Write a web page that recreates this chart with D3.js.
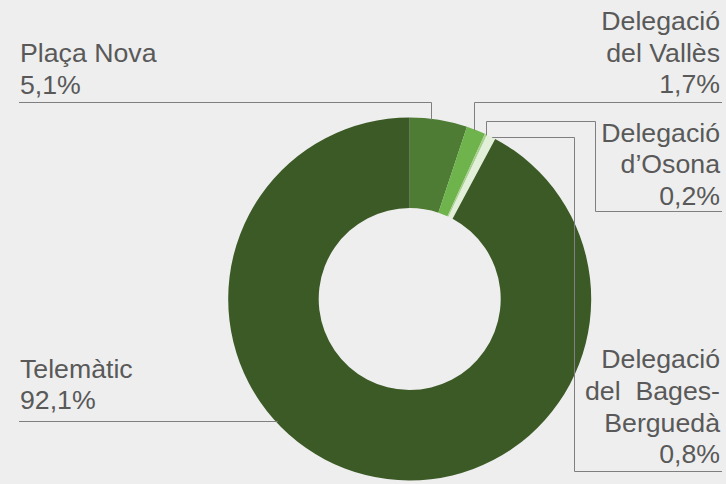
<!DOCTYPE html>
<html>
<head>
<meta charset="utf-8">
<script src="https://cdn.jsdelivr.net/npm/d3@7"></script>
<style>
  html, body { margin: 0; padding: 0; background: #eeeeee; }
  svg { display: block; }
  text { font-family: "Liberation Sans", Arial, sans-serif; font-size: 26.7px; fill: #595959; white-space: pre; }
</style>
</head>
<body>
<svg id="chart" width="726" height="484"></svg>
<script>
// ---- Data ----
const categories = ["Plaça Nova", "Delegació del Vallès", "Delegació d’Osona", "Delegació del Bages-Berguedà", "Telemàtic"];
const values = [5.1, 1.7, 0.2, 0.8, 92.1];
const nameLines = [
  ["Plaça Nova"],
  ["Delegació", "del Vallès"],
  ["Delegació", "d’Osona"],
  ["Delegació", "del  Bages-", "Berguedà"],
  ["Telemàtic"]
];
const colors = ["#4e7c35", "#6fb34c", "#a9d18e", "#e2efd9", "#3b5a25"];

// ---- Layout ----
const W = 726, H = 484;
const cx = 409.7, cy = 299, R = 181.5, r = 91;
const lineSpacing = 31.7;
const labelLayout = [
  { align: "start", x: 20,  y0: 62,    frac: 0.38, kind: "upLeft",  lineY: 102.5, endX: 19 },
  { align: "end",   x: 720, y0: 30,    frac: 0.42, kind: "upRight", lineY: 102.5, endX: 722 },
  { align: "end",   x: 720, y0: 141.7, frac: 0.5,  kind: "upBox",   lineY: 121.5, elbowX: 595.5, lineY2: 211.5, endX: 722 },
  { align: "end",   x: 720, y0: 368.3, frac: 0.5,  kind: "rightDown", elbowX: 574.5, lineY2: 471.5, endX: 722 },
  { align: "start", x: 20,  y0: 377.5, kind: "leftArc", lineY: 421.5, endX: 19 }
];

const fmt = v => d3.format(".1f")(v).replace(".", ",") + "%";

const svg = d3.select("#chart");
svg.append("rect").attr("width", W).attr("height", H).attr("fill", "#eeeeee");

const pie = d3.pie().sort(null).value(d => d)(values);
const arc = d3.arc().innerRadius(r).outerRadius(R);

const g = svg.append("g").attr("transform", `translate(${cx},${cy})`);
g.selectAll("path.slice")
  .data(pie)
  .join("path")
  .attr("class", "slice")
  .attr("d", arc)
  .attr("fill", (d, i) => colors[i]);

// ---- Leader lines ----
const snap = v => Math.round(v - 0.5) + 0.5;
function pointAt(a) { return [cx + R * Math.sin(a), cy - R * Math.cos(a)]; }

const leaders = pie.map((d, i) => {
  const L = labelLayout[i];
  if (L.kind === "leftArc") {
    const dy = L.lineY - cy;
    const ax = cx - Math.sqrt(R * R - dy * dy);
    return [[ax + 2, L.lineY], [L.endX, L.lineY]];
  }
  const a = d.startAngle + L.frac * (d.endAngle - d.startAngle);
  const [px, py] = pointAt(a);
  if (L.kind === "upLeft" || L.kind === "upRight") {
    const x = snap(px);
    return [[x, py + 1], [x, L.lineY], [L.endX, L.lineY]];
  }
  if (L.kind === "upBox") {
    const x = snap(px);
    return [[x, py + 1], [x, L.lineY], [L.elbowX, L.lineY], [L.elbowX, L.lineY2], [L.endX, L.lineY2]];
  }
  // rightDown
  const y = snap(py + 1);
  return [[px + 1, y], [L.elbowX, y], [L.elbowX, L.lineY2], [L.endX, L.lineY2]];
});

svg.append("g").selectAll("path.leader")
  .data(leaders)
  .join("path")
  .attr("class", "leader")
  .attr("d", d3.line())
  .attr("fill", "none")
  .attr("stroke", "#7f7f7f")
  .attr("stroke-width", 1);

// ---- Labels ----
const labels = svg.append("g");
pie.forEach((d, i) => {
  const L = labelLayout[i];
  const lines = nameLines[i].concat([fmt(values[i])]);
  const t = labels.append("text")
    .attr("text-anchor", L.align)
    .attr("x", L.x)
    .attr("y", L.y0);
  lines.forEach((s, k) => {
    t.append("tspan")
      .attr("x", L.x)
      .attr("y", L.y0 + k * lineSpacing)
      .text(s);
  });
});
</script>
</body>
</html>
